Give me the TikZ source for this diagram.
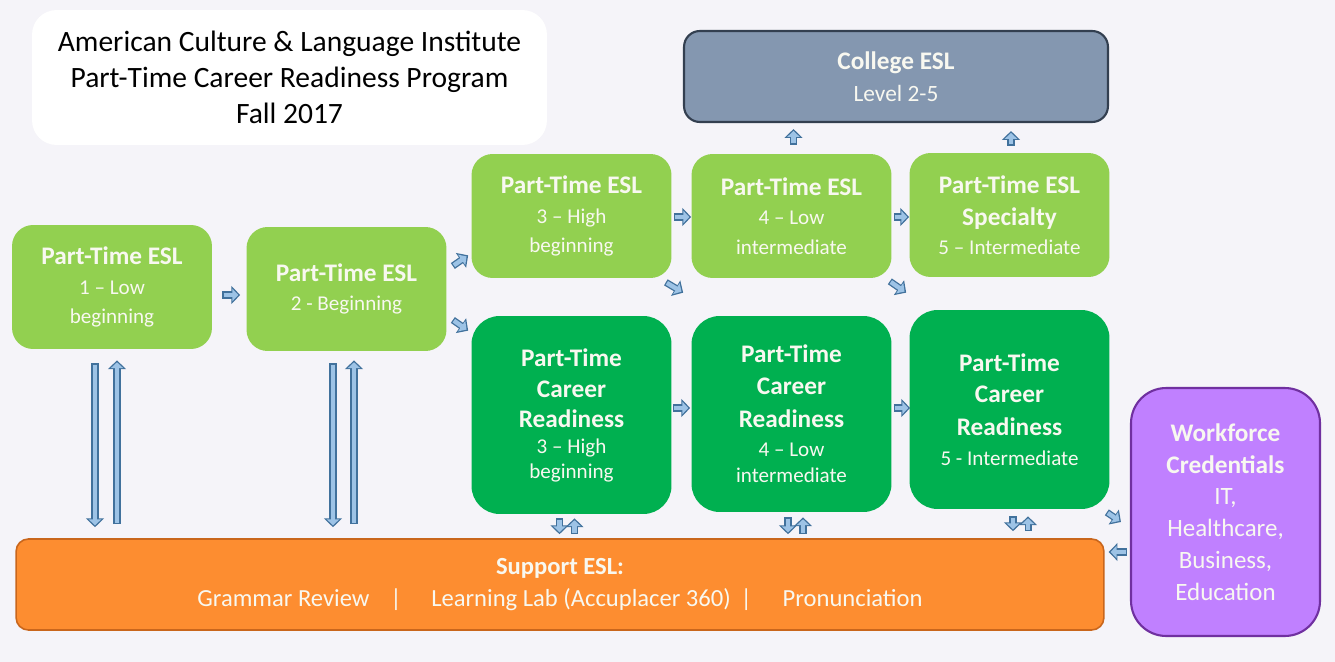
\documentclass[tikz,border=0pt]{standalone}
\usepackage{fontspec}
\setmainfont{Carlito}
\usetikzlibrary{arrows.meta,calc}
\definecolor{pagebg}{HTML}{F5F4F9}
\definecolor{eslgreen}{HTML}{92D050}
\definecolor{crgreen}{HTML}{00B050}
\definecolor{collegeblue}{HTML}{8497B0}
\definecolor{collegeedge}{HTML}{333F50}
\definecolor{supportorange}{HTML}{FD8D30}
\definecolor{supportedge}{HTML}{C9661C}
\definecolor{workpurple}{HTML}{C080FF}
\definecolor{workedge}{HTML}{7030A0}
\definecolor{arrowfill}{HTML}{9DC3E6}
\definecolor{arrowedge}{HTML}{41719C}
\definecolor{boxtext}{HTML}{F8F8F0}

% bold heading line inside a box
\newcommand{\hd}[1]{{\fontsize{14.4}{16.7}\selectfont\bfseries #1}}

\tikzset{
  box/.style={align=center, inner sep=0pt, text=boxtext, font=\fontsize{12}{16.7}\selectfont},
  eslbox/.style={box, fill=eslgreen, rounded corners=12pt, minimum width=4cm, minimum height=2.48cm},
  crbox/.style={box, fill=crgreen, rounded corners=16pt, minimum width=4cm},
  % outlined block arrows: dark stroke first, light fill drawn over it
  flow/.style={draw=arrowedge, line width=4pt, -{Triangle[length=5pt,width=10pt]},
    postaction={draw=arrowfill, line width=2.5pt, shorten >=1.1pt, shorten <=0.7pt,
      -{Triangle[length=3.4pt,width=7pt]}}}
}

\begin{document}
\begin{tikzpicture}[x=0.02cm, y=-0.02cm]
\useasboundingbox (0,0) rectangle (1335,662);
\fill[pagebg] (0,0) rectangle (1335,662);

\node[fill=white, rounded corners=14pt, minimum width=10.3cm, minimum height=2.7cm,
  align=center, inner sep=0pt, font=\fontsize{16.8}{20.4}\selectfont]
  (title) at (289.5,77.5) {American Culture \& Language Institute\\Part-Time Career Readiness Program\\Fall 2017};

\node[box, fill=collegeblue, draw=collegeedge, line width=1.2pt, rounded corners=9pt,
  minimum width=8.48cm, minimum height=1.82cm, font=\fontsize{13.3}{18.1}\selectfont]
  (college) at (896,76.5) {\hd{College ESL}\\Level 2-5};

% ESL track
\node[eslbox] (esl1) at (112,287) {\hd{Part-Time ESL}\\1 -- Low\\beginning};
\node[eslbox] (esl2) at (346.5,289) {\hd{Part-Time ESL}\\2 - Beginning};
\node[eslbox] (esl3) at (571.5,216) {\hd{Part-Time ESL}\\3 -- High\\beginning};
\node[eslbox] (esl4) at (791.5,216) {\hd{Part-Time ESL}\\4 -- Low\\intermediate};
\node[eslbox] (esl5) at (1009.5,215) {\hd{Part-Time ESL}\\[1.5pt]\hd{Specialty}\\5 -- Intermediate};

% career readiness track
\node[crbox, minimum height=3.96cm] (cr3) at (571.5,415)
  {\hd{Part-Time}\\[1pt]\hd{Career}\\[0.4pt]\hd{Readiness}\\[-2pt]3 -- High\\[-2.5pt]beginning};
\node[crbox, minimum height=3.92cm] (cr4) at (791.5,414)
  {\hd{Part-Time}\\[1.4pt]\hd{Career}\\[2pt]\hd{Readiness}\\[-0.3pt]4 -- Low\\[-1.4pt]intermediate};
\node[crbox, minimum height=3.98cm] (cr5) at (1009.5,409.5)
  {\hd{Part-Time}\\[1.4pt]\hd{Career}\\[2pt]\hd{Readiness}\\[0.3pt]5 - Intermediate};

\node[box, fill=workpurple, draw=workedge, line width=1.2pt, rounded corners=20pt,
  minimum width=3.78cm, minimum height=4.96cm, font=\fontsize{14.2}{18.1}\selectfont]
  (work) at (1225.5,512) {\hd{Workforce}\\\hd{Credentials}\\IT,\\Healthcare,\\Business,\\Education};

\node[box, fill=supportorange, draw=supportedge, line width=0.9pt, rounded corners=7pt,
  minimum width=21.76cm, minimum height=1.82cm, font=\fontsize{14}{18.7}\selectfont]
  (sup) at (560,584.5) {\textbf{Support ESL:}\\Grammar Review\hspace{0.85em}|\hspace{1.2em}Learning Lab (Accuplacer 360)\hspace{0.4em}|\hspace{1.25em}Pronunciation};

% forward arrows
\draw[flow] ($(esl1.east)+(10,8)$) -- ($(esl2.west |- esl1.east)+(-6,8)$);
\draw[flow] ($(esl2.east)+(6,-23)$) -- ($(esl3.south west)+(-3,-23)$);
\draw[flow] ($(esl2.east)+(6,31)$) -- ($(cr3.north west)+(-3,15)$);
\draw[flow] ($(esl3.east)+(2,1)$) -- ($(esl4.west)+(0,1)$);
\draw[flow] ($(esl4.east)+(2,1)$) -- ($(esl5.west)+(0,2)$);
\draw[flow] ($(esl3.south east)+(-6,4)$) -- ($(cr4.north west)+(-8,-23)$);
\draw[flow] ($(esl4.south east)+(-2,3)$) -- ($(cr5.north west)+(-3,-17)$);
\draw[flow] ($(cr3.east)+(1,-7)$) -- ($(cr4.west)+(-1,-6)$);
\draw[flow] ($(cr4.east)+(2,-6)$) -- ($(cr5.west)+(1,-1.5)$);
\draw[flow] ($(esl4.north)+(2,-9)$) -- ($(esl4.north |- college.south)+(2,6)$);
\draw[flow] ($(esl5.north)+(1.5,-7)$) -- ($(esl5.north |- college.south)+(1.5,8)$);
\draw[flow] ($(cr5.south east)+(-3,3)$) -- ($(work.west)+(-9,10)$);
\draw[flow] ($(work.west)+(-3,40)$) -- ($(sup.east)+(4,-32.5)$);

% links to and from support
\draw[flow] ($(esl1.south)+(-17,14)$) -- ($(esl1.south |- sup.north)+(-17,-11)$);
\draw[flow] ($(esl1.south |- sup.north)+(5,-14)$) -- ($(esl1.south)+(5,11)$);
\draw[flow] ($(esl2.south)+(-13.5,12)$) -- ($(esl2.south |- sup.north)+(-13.5,-11)$);
\draw[flow] ($(esl2.south |- sup.north)+(7.5,-14)$) -- ($(esl2.south)+(7.5,9)$);
\draw[flow] ($(cr3.south)+(-12,4)$) -- ($(cr3.south |- sup.north)+(-12,-4)$);
\draw[flow] ($(cr3.south |- sup.north)+(3,-4)$) -- ($(cr3.south)+(3,4)$);
\draw[flow] ($(cr4.south)+(-3.5,5)$) -- ($(cr4.south |- sup.north)+(-3.5,-4)$);
\draw[flow] ($(cr4.south |- sup.north)+(11.5,-4)$) -- ($(cr4.south)+(11.5,5)$);
\draw[flow] ($(cr5.south)+(3.5,7)$) -- ($(cr5.south |- sup.north)+(3.5,-7)$);
\draw[flow] ($(cr5.south |- sup.north)+(18.5,-7)$) -- ($(cr5.south)+(18.5,7)$);
\end{tikzpicture}
\end{document}
